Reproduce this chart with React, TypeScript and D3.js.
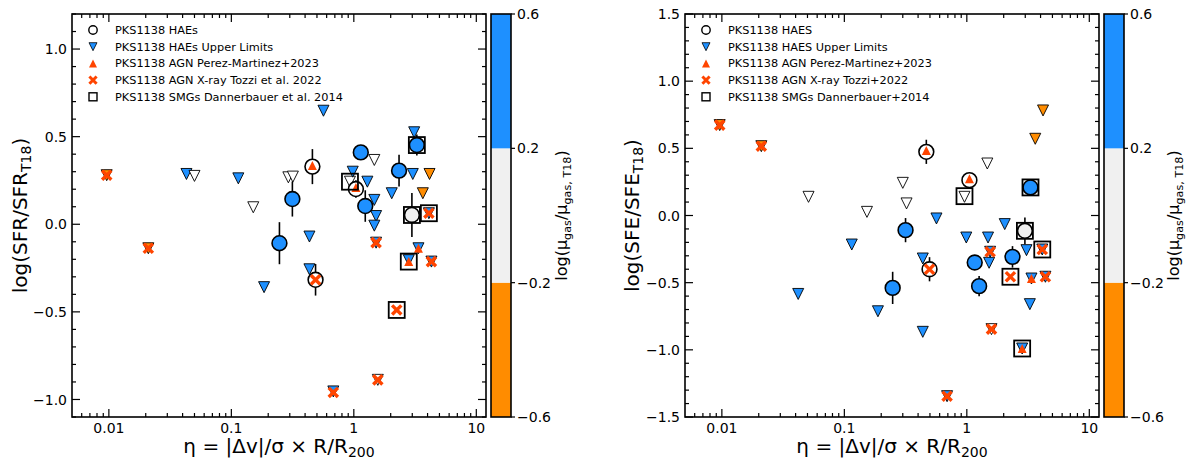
import React from "react";
import * as d3 from "d3";

// [eta, value, colour class]  (b = blue, g = light grey, o = orange, w = white)
type Up = [number, number, string];
// [eta, value, error, colour class]
type Hae = [number, number, number, string];
type Pt = [number, number];

// ---- left panel: log(SFR/SFR_T18)
const sfrHAEs: Hae[] = [
    [0.247, -0.108, 0.12, "b"],
    [0.315, 0.144, 0.1, "b"],
    [0.459, 0.329, 0.1, "w"],
    [0.487, -0.317, 0.09, "w"],
    [1.14, 0.41, 0.03, "b"],
    [1.04, 0.201, 0.05, "w"],
    [1.24, 0.104, 0.09, "b"],
    [2.34, 0.306, 0.09, "b"],
    [3.27, 0.452, 0.06, "b"],
    [2.98, 0.053, 0.125, "g"],
];
const sfrUpper: Up[] = [
    [0.0096, 0.28, "o"], [0.021, -0.137, "o"], [0.043, 0.287, "b"], [0.05, 0.276, "w"],
    [0.114, 0.262, "b"], [0.151, 0.097, "w"], [0.185, -0.359, "b"], [0.292, 0.268, "w"],
    [0.318, 0.272, "w"], [0.434, -0.07, "b"], [0.434, -0.257, "b"], [0.565, 0.648, "b"],
    [0.68, -0.954, "b"], [0.93, 0.243, "w"], [0.98, 0.3, "b"], [1.29, 0.243, "b"],
    [1.47, 0.139, "b"], [1.52, 0.047, "b"], [1.47, -0.008, "b"], [1.47, 0.367, "w"],
    [1.52, -0.105, "b"], [1.57, -0.888, "w"], [2.04, 0.177, "b"], [3.03, 0.287, "b"],
    [3.11, 0.525, "b"], [4.15, 0.287, "o"], [3.66, 0.177, "o"], [3.37, -0.137, "b"],
    [2.81, -0.205, "b"], [4.3, -0.213, "b"], [4.1, 0.063, "b"],
];
const sfrAgnPM: Pt[] = [[0.459, 0.335], [1.04, 0.21], [3.37, -0.137], [2.81, -0.213]];
const sfrAgnX: Pt[] = [
    [0.0096, 0.28], [0.021, -0.137], [0.487, -0.317], [0.68, -0.96], [1.52, -0.105],
    [1.57, -0.888], [2.24, -0.489], [4.1, 0.063], [4.3, -0.213],
];
const sfrSMGs: Pt[] = [[0.93, 0.243], [3.27, 0.452], [2.98, 0.053], [4.1, 0.063], [2.81, -0.213], [2.24, -0.489]];

// ---- right panel: log(SFE/SFE_T18)
const sfeHAEs: Hae[] = [
    [0.248, -0.539, 0.12, "b"],
    [0.316, -0.109, 0.09, "b"],
    [0.467, 0.474, 0.09, "w"],
    [0.496, -0.4, 0.09, "w"],
    [1.16, -0.35, 0.03, "b"],
    [1.05, 0.263, 0.05, "w"],
    [1.26, -0.526, 0.075, "b"],
    [2.36, -0.308, 0.08, "b"],
    [3.31, 0.209, 0.05, "b"],
    [2.98, -0.114, 0.1, "g"],
];
const sfeUpper: Up[] = [
    [0.0096, 0.673, "o"], [0.021, 0.516, "o"], [0.042, -0.584, "b"], [0.051, 0.139, "w"],
    [0.115, -0.216, "b"], [0.153, 0.027, "w"], [0.188, -0.713, "b"], [0.3, 0.243, "w"],
    [0.322, 0.09, "w"], [0.437, -0.32, "b"], [0.437, -0.866, "b"], [0.565, -0.022, "b"],
    [0.69, -1.345, "b"], [0.957, 0.139, "w"], [0.99, -0.164, "b"], [1.47, 0.387, "w"],
    [1.49, -0.164, "b"], [1.52, -0.352, "b"], [1.55, -0.27, "b"], [1.59, -0.846, "w"],
    [2.04, -0.064, "b"], [3.07, -0.258, "b"], [3.62, 0.571, "o"], [4.19, 0.782, "o"],
    [4.13, -0.253, "b"], [4.38, -0.456, "b"], [3.37, -0.469, "b"], [3.27, -0.66, "b"],
    [2.83, -0.99, "b"],
];
const sfeAgnPM: Pt[] = [[0.467, 0.484], [1.05, 0.273], [3.37, -0.469], [2.83, -0.99]];
const sfeAgnX: Pt[] = [
    [0.0096, 0.673], [0.021, 0.516], [0.496, -0.4], [0.69, -1.345], [1.55, -0.27],
    [1.59, -0.846], [2.27, -0.456], [4.13, -0.253], [4.38, -0.456],
];
const sfeSMGs: Pt[] = [[0.957, 0.144], [3.31, 0.209], [2.98, -0.114], [4.13, -0.253], [2.27, -0.456], [2.83, -0.99]];

// ---- axes / colourbar
const xTicks = [0.01, 0.1, 1, 10];
const xTickLabels = ["0.01", "0.1", "1", "10"];
const sfrYTicks = [-1, -0.5, 0, 0.5, 1];
const sfeYTicks = [-1.5, -1, -0.5, 0, 0.5, 1, 1.5];
const cbTicks = [-0.6, -0.2, 0.2, 0.6];
const cbBounds = [-0.6, -0.2, 0.2, 0.6];
const cbColors = ["#ff8c00", "#f0f0f0", "#1e90ff"];
const colorOf: Record<string, string> = {b: "#1e90ff", g: "#f0f0f0", o: "#ff8c00", w: "#ffffff"};
const agnColor = "#ff4500";

const sfrLegend = [
    "PKS1138 HAEs", "PKS1138 HAEs Upper Limits", "PKS1138 AGN Perez-Martinez+2023",
    "PKS1138 AGN X-ray Tozzi et al. 2022", "PKS1138 SMGs Dannerbauer et al. 2014",
];
const sfeLegend = [
    "PKS1138 HAES", "PKS1138 HAES Upper Limits", "PKS1138 AGN Perez-Martinez+2023",
    "PKS1138 AGN X-ray Tozzi+2022", "PKS1138 SMGs Dannerbauer+2014",
];

const FONT = "DejaVu Sans";
const top = 14, bottom = 417;

const triDown = (x: number, y: number, s: number) =>
    `M${x},${y + s / 2}L${x - s / 2},${y - s / 2}L${x + s / 2},${y - s / 2}Z`;
const triUp = (x: number, y: number, s: number) =>
    `M${x},${y - s / 2}L${x - s / 2},${y + s / 2}L${x + s / 2},${y + s / 2}Z`;
const cross = (x: number, y: number, h: number) =>
    `M${x - h},${y - h}L${x + h},${y + h}M${x - h},${y + h}L${x + h},${y - h}`;

interface PanelProps {
    left: number; right: number; cbLeft: number; cbRight: number;
    yDomain: [number, number]; yTicks: number[]; q: string;
    haes: Hae[]; upper: Up[]; pm: Pt[]; xr: Pt[]; smg: Pt[];
    legend: string[]; yLabelX: number; cbLabelX: number;
}

// subscript, then optional text back on the baseline
const Sub = ({fs, text, after}: { fs: number; text: string; after?: string }) => (
    <>
        <tspan fontSize={fs * 0.7} dy={fs * 0.22}>{text}</tspan>
        {after ? <tspan dy={-fs * 0.22}>{after}</tspan> : null}
    </>
);

const Panel: React.FC<PanelProps> = (p) => {
    const x = d3.scaleLog().domain([0.005, 12]).range([p.left, p.right]);
    const y = d3.scaleLinear().domain(p.yDomain).range([bottom, top]);
    const cb = d3.scaleLinear().domain([-0.6, 0.6]).range([bottom, top]);
    const fmt = d3.format(".1f");

    const xMinor: number[] = [];
    for (let d = -3; d <= 1; d++) for (let k = 2; k <= 9; k++) {
        const v = k * Math.pow(10, d);
        if (v > 0.005 && v < 12) xMinor.push(v);
    }
    const yMinor = d3.range(Math.round(p.yDomain[0] * 10), Math.round(p.yDomain[1] * 10) + 1)
        .map(v => v / 10).filter(v => Math.abs(v * 2 - Math.round(v * 2)) > 1e-6);

    const cx = (p.left + p.right) / 2;
    const cy = (top + bottom) / 2;
    const lx = p.left + 21, tx = p.left + 43;
    const rowY = (i: number) => 30 + i * 16.7;

    return (
        <g>
            {/* ticks */}
            <g stroke="#000" strokeWidth={1.2}>
                {xTicks.map(t => <g key={"xt" + t}>
                    <line x1={x(t)} x2={x(t)} y1={bottom} y2={bottom - 8}/>
                    <line x1={x(t)} x2={x(t)} y1={top} y2={top + 8}/>
                </g>)}
                {xMinor.map(t => <g key={"xm" + t}>
                    <line x1={x(t)} x2={x(t)} y1={bottom} y2={bottom - 4}/>
                    <line x1={x(t)} x2={x(t)} y1={top} y2={top + 4}/>
                </g>)}
                {p.yTicks.map(t => <g key={"yt" + t}>
                    <line x1={p.left} x2={p.left + 8} y1={y(t)} y2={y(t)}/>
                    <line x1={p.right} x2={p.right - 8} y1={y(t)} y2={y(t)}/>
                </g>)}
                {yMinor.map(t => <g key={"ym" + t}>
                    <line x1={p.left} x2={p.left + 4} y1={y(t)} y2={y(t)}/>
                    <line x1={p.right} x2={p.right - 4} y1={y(t)} y2={y(t)}/>
                </g>)}
            </g>
            <g fontFamily={FONT} fontSize={14} fill="#000">
                {xTicks.map((t, i) => <text key={"xl" + t} x={x(t)} y={433} textAnchor="middle">{xTickLabels[i]}</text>)}
                {p.yTicks.map(t => <text key={"yl" + t} x={p.left - 5} y={y(t)} dy="0.36em" textAnchor="end">{fmt(t)}</text>)}
            </g>

            {/* upper limits */}
            {p.upper.map((d, i) => <path key={"u" + i} d={triDown(x(d[0]), y(d[1]), 11)}
                                         fill={colorOf[d[2]]} stroke="#000" strokeWidth={0.9}/>)}
            {/* detections */}
            {p.haes.map((d, i) => <line key={"e" + i} x1={x(d[0])} x2={x(d[0])} y1={y(d[1] - d[2])} y2={y(d[1] + d[2])}
                                        stroke="#000" strokeWidth={1.6}/>)}
            {p.haes.map((d, i) => <circle key={"c" + i} cx={x(d[0])} cy={y(d[1])} r={7.4}
                                          fill={colorOf[d[3]]} stroke="#000" strokeWidth={1.6}/>)}
            {p.pm.map((d, i) => <path key={"p" + i} d={triUp(x(d[0]), y(d[1]), 9)} fill={agnColor}/>)}
            {p.xr.map((d, i) => <path key={"x" + i} d={cross(x(d[0]), y(d[1]), 4.6)} fill="none"
                                      stroke={agnColor} strokeWidth={3.4}/>)}
            {p.smg.map((d, i) => <rect key={"s" + i} x={x(d[0]) - 8} y={y(d[1]) - 8} width={16} height={16}
                                       fill="none" stroke="#000" strokeWidth={1.8}/>)}

            {/* legend */}
            <circle cx={lx} cy={rowY(0)} r={4.2} fill="#fff" stroke="#000" strokeWidth={1.4}/>
            <path d={triDown(lx, rowY(1), 8)} fill="#1e90ff" stroke="#000" strokeWidth={0.8}/>
            <path d={triUp(lx, rowY(2), 8)} fill={agnColor}/>
            <path d={cross(lx, rowY(3), 3.6)} stroke={agnColor} strokeWidth={3}/>
            <rect x={lx - 4} y={rowY(4) - 4} width={8} height={8} fill="none" stroke="#000" strokeWidth={1.4}/>
            <g fontFamily={FONT} fontSize={11.3} fill="#000">
                {p.legend.map((s, i) => <text key={"l" + i} x={tx} y={rowY(i)} dy="0.36em">{s}</text>)}
            </g>

            {/* frame */}
            <rect x={p.left} y={top} width={p.right - p.left} height={bottom - top} fill="none" stroke="#000" strokeWidth={1.6}/>

            {/* colourbar */}
            {cbColors.map((c, i) => <rect key={"cb" + i} x={p.cbLeft} y={cb(cbBounds[i + 1])}
                                          width={p.cbRight - p.cbLeft} height={cb(cbBounds[i]) - cb(cbBounds[i + 1])} fill={c}/>)}
            <rect x={p.cbLeft} y={top} width={p.cbRight - p.cbLeft} height={bottom - top} fill="none" stroke="#000" strokeWidth={1.6}/>
            {cbTicks.map(t => <line key={"ct" + t} x1={p.cbRight} x2={p.cbRight + 4} y1={cb(t)} y2={cb(t)} stroke="#000" strokeWidth={1.2}/>)}
            <g fontFamily={FONT} fontSize={14} fill="#000">
                {cbTicks.map(t => <text key={"cl" + t} x={p.cbRight + 6} y={cb(t)} dy="0.36em">{fmt(t)}</text>)}
            </g>

            {/* axis titles */}
            <text x={cx} y={453} textAnchor="middle" fontFamily={FONT} fontSize={20}>
                {"\u03b7 = |\u0394v|/\u03c3 \u00d7 R/R"}<Sub fs={20} text="200"/>
            </text>
            <text transform={`translate(${p.yLabelX},${cy}) rotate(-90)`} textAnchor="middle" fontFamily={FONT} fontSize={20}>
                {`log(${p.q}/${p.q}`}<Sub fs={20} text="T18" after=")"/>
            </text>
            <text transform={`translate(${p.cbLabelX},${cy}) rotate(-90)`} textAnchor="middle" fontFamily={FONT} fontSize={16}>
                {"log(\u03bc"}<Sub fs={16} text="gas" after={"/\u03bc"}/><Sub fs={16} text="gas, T18" after=")"/>
            </text>
        </g>
    );
};

export default function App() {
    return (
        <svg width={1200} height={462} style={{position: "absolute", left: 0, top: 0, background: "#fff"}}>
            <rect width={1200} height={462} fill="#fff"/>
            <Panel left={72} right={486} cbLeft={491} cbRight={511} yDomain={[-1.1, 1.2]} yTicks={sfrYTicks}
                   q="SFR" haes={sfrHAEs} upper={sfrUpper} pm={sfrAgnPM} xr={sfrAgnX} smg={sfrSMGs}
                   legend={sfrLegend} yLabelX={27} cbLabelX={567}/>
            <Panel left={685} right={1099} cbLeft={1104} cbRight={1124} yDomain={[-1.5, 1.5]} yTicks={sfeYTicks}
                   q="SFE" haes={sfeHAEs} upper={sfeUpper} pm={sfeAgnPM} xr={sfeAgnX} smg={sfeSMGs}
                   legend={sfeLegend} yLabelX={639} cbLabelX={1179}/>
        </svg>
    );
}
